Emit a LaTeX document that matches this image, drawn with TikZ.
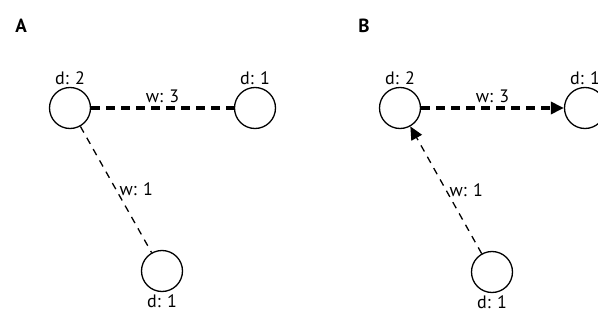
\documentclass[tikz,border=0pt]{standalone}
\usepackage{fontspec}
\setmainfont{PT Sans}
\usepackage{tikz}
\usetikzlibrary{arrows.meta, positioning}

\begin{document}
\begin{tikzpicture}[
        x=1pt, y=-1pt,
        vertex/.style={circle, draw, line width=1.3pt, minimum size=41pt, inner sep=0pt},
        lbl/.style={font=\fontsize{18}{20}\selectfont, inner sep=1pt},
        panel/.style={font=\fontsize{19}{21}\selectfont\bfseries, inner sep=0pt},
        heavy/.style={line width=4pt, dash pattern=on 9pt off 6pt},
        light/.style={line width=1.3pt, dash pattern=on 7pt off 6pt},
        arrow/.style={-{Triangle[length=13pt, width=12pt]}}
    ]
        \useasboundingbox (0,0) rectangle (598,324);
        % panel A
        \node[panel] (A) at (21,26) {A};
        \node[vertex] (a1) at (70,108) {};
        \node[vertex] (a2) at (255,108) {};
        \node[vertex] (a3) at (162,271) {};
        \node[lbl, above=1pt of a1] (da1) {d: 2};
        \node[lbl, above=1pt of a2] (da2) {d: 1};
        \node[lbl, below=1pt of a3] (da3) {d: 1};

        \draw[heavy] (a1) -- node[lbl, above=2pt] (wa3) {w: 3} (a2);
        \draw[light] (a1) -- node[lbl, right=2pt] (wa1) {w: 1} (a3);

        % panel B
        \node[panel] (B) at (364,26) {B};
        \node[vertex] (b1) at (400,108) {};
        \node[vertex] (b2) at (585,108) {};
        \node[vertex] (b3) at (492,272) {};
        \node[lbl, above=1pt of b1] (db1) {d: 2};
        \node[lbl, above=1pt of b2] (db2) {d: 1};
        \node[lbl, below=1pt of b3] (db3) {d: 1};

        \draw[heavy, arrow] (b1) -- node[lbl, above=2pt] (wb3) {w: 3} (b2);
        \draw[light, arrow] (b3) -- node[lbl, right=2pt] (wb1) {w: 1} (b1);
    \end{tikzpicture}
\end{document}
